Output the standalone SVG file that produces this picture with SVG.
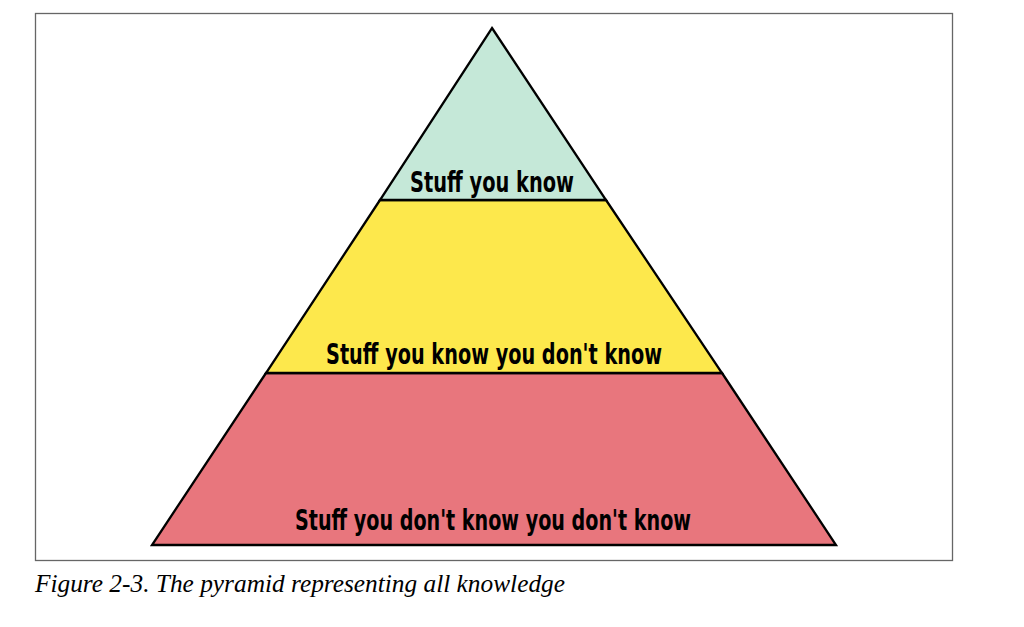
<svg xmlns="http://www.w3.org/2000/svg" width="1024" height="627" viewBox="0 0 1024 627">
<style>
.band{stroke:#000;stroke-width:2.3;stroke-linejoin:miter}
.lbl{font-family:"Liberation Sans Narrow","DejaVu Sans Condensed","DejaVu Sans",sans-serif;font-stretch:condensed;font-weight:bold;font-size:28px;fill:#000;text-anchor:start}
.cap{font-family:"Liberation Serif","Times New Roman",serif;font-style:italic;font-size:25px;fill:#000}
</style>
<rect x="0" y="0" width="1024" height="627" fill="#fff"/>
<rect x="35.5" y="13.5" width="917" height="547" fill="#fff" stroke="#666" stroke-width="1.3"/>
<g id="bottom">
<polygon class="band" points="266,373 722,373 836,545 152,545" fill="#e8767d"/>
<text class="lbl" x="295" y="530" textLength="396" lengthAdjust="spacingAndGlyphs">Stuff you don't know you don't know</text>
</g>
<g id="middle">
<polygon class="band" points="380,200 606,200 722,373 266,373" fill="#fde84c"/>
<text class="lbl" x="326" y="364" textLength="336" lengthAdjust="spacingAndGlyphs">Stuff you know you don't know</text>
</g>
<g id="top">
<polygon class="band" points="492,28 606,200 380,200" fill="#c5e8d8"/>
<text class="lbl" x="410" y="192" textLength="164" lengthAdjust="spacingAndGlyphs">Stuff you know</text>
</g>
<g id="connectors"></g>
<text class="cap" x="35" y="592" textLength="530" lengthAdjust="spacingAndGlyphs">Figure 2-3. The pyramid representing all knowledge</text>
</svg>
